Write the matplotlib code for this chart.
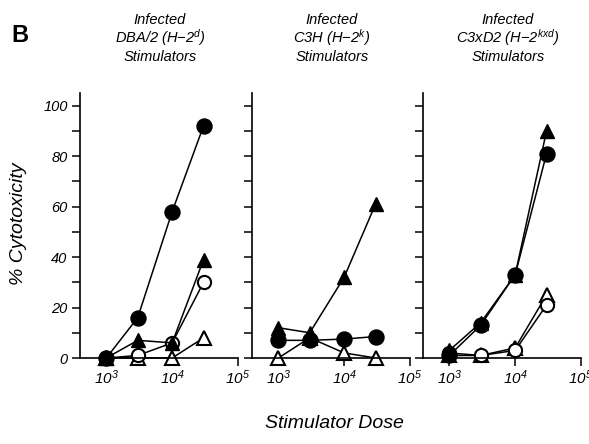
import matplotlib
matplotlib.use("Agg")
import matplotlib.pyplot as plt
import numpy as np

plt.rcParams['font.family'] = ['Liberation Sans', 'DejaVu Sans']
plt.rcParams['mathtext.fontset'] = 'custom'
plt.rcParams['mathtext.rm'] = 'Liberation Sans:italic'
plt.rcParams['mathtext.it'] = 'Liberation Sans:italic'

## stimulator doses (same for every panel)
dose = [1e3, 3e3, 1e4, 3e4]

## panel titles
titles = [
    ["Infected", "DBA/2 (H\u22122$^{d}$)", "Stimulators"],
    ["Infected", "C3H (H\u22122$^{k}$)", "Stimulators"],
    ["Infected", "C3xD2 (H\u22122$^{kxd}$)", "Stimulators"],
]

## % cytotoxicity
# DBA/2
dba_filled_circle = [0, 16, 58, 92]
dba_filled_tri = [0, 7, 6, 39]
dba_open_circle = [0, 1, 6, 30]
dba_open_tri = [0, 0, 0, 8]
# C3H
c3h_filled_circle = [7, 7, 7.5, 8.5]
c3h_filled_tri = [12, 10, 32, 61]
c3h_open_tri = [0, 8, 2, 0]
# C3xD2
cxd_filled_circle = [1, 13, 33, 81]
cxd_filled_tri = [3, 14, 33, 90]
cxd_open_circle = [2, 1, 3, 21]
cxd_open_tri = [1, 1, 4, 25]

panels = [
    [(dba_open_tri, 'open_tri'), (dba_open_circle, 'open_circle'),
     (dba_filled_tri, 'filled_tri'), (dba_filled_circle, 'filled_circle')],
    [(c3h_open_tri, 'open_tri'), (c3h_filled_circle, 'filled_circle'),
     (c3h_filled_tri, 'filled_tri')],
    [(cxd_open_tri, 'open_tri'), (cxd_open_circle, 'open_circle'),
     (cxd_filled_circle, 'filled_circle'), (cxd_filled_tri, 'filled_tri')],
]

styles = {
    'filled_circle': dict(marker='o', ms=10.8, mfc='black', mec='black', mew=1),
    'filled_tri': dict(marker='^', ms=10, mfc='black', mec='black', mew=1),
    'open_circle': dict(marker='o', ms=9.5, mfc='white', mec='black', mew=1.5),
    'open_tri': dict(marker='^', ms=9.5, mfc='white', mec='black', mew=1.5),
}

W, H = 589, 444
fig = plt.figure(figsize=(W / 100, H / 100), dpi=100)

lefts = [80, 252, 423]
pw = 158
bottom = 86
top = 93
tick_font = dict(family='Liberation Sans', style='italic', size=10.5)

for i, left in enumerate(lefts):
    ax = fig.add_axes([left / W, bottom / H, pw / W, (H - bottom - top) / H])
    for vals, kind in panels[i]:
        ax.plot(dose, vals, color='black', lw=1.1, clip_on=False, **styles[kind])
    ax.set_xscale('log')
    ax.set_xlim(10 ** 2.6, 1e5)
    ax.set_ylim(0, 105)
    for s in ['top', 'right']:
        ax.spines[s].set_visible(False)
    ax.spines['left'].set_linewidth(1.2)
    ax.spines['bottom'].set_linewidth(1.2)
    ax.set_xticks([1e3, 1e4, 1e5])
    ax.set_xticklabels(['$10^{3}$', '$10^{4}$', '$10^{5}$'], fontsize=11)
    ax.xaxis.set_minor_locator(matplotlib.ticker.NullLocator())
    ax.set_yticks(np.arange(0, 101, 20))
    ax.set_yticks(np.arange(10, 100, 20), minor=True)
    ax.tick_params(axis='both', which='both', direction='out', length=6, width=1.1, pad=3)
    ax.tick_params(axis='x', pad=1.5)
    if i == 0:
        ax.set_yticklabels([str(v) for v in range(0, 101, 20)], **tick_font)
    else:
        ax.set_yticklabels([])
    cx = (left + pw / 2 + (6 if i == 2 else 1)) / W
    for j, line in enumerate(titles[i]):
        fig.text(cx, 1 - [20, 38, 57][j] / H, line, ha='center', va='center',
                 fontsize=10.5, style='italic')

fig.text(20 / W, 1 - 35 / H, "B", fontsize=17, fontweight='bold', ha='center', va='center')
fig.text(19 / W, 1 - 224 / H, "% Cytotoxicity", rotation=90, fontsize=14, style='italic',
         ha='center', va='center')
fig.text(334 / W, 1 - 423 / H, "Stimulator Dose", fontsize=14, style='italic',
         ha='center', va='center')

fig.savefig("out.png", dpi=100)
